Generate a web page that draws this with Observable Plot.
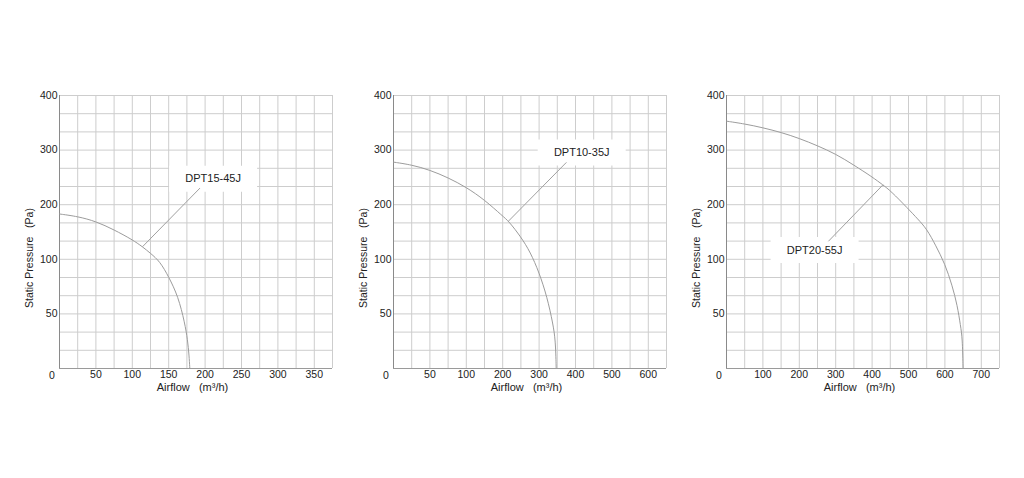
<!DOCTYPE html>
<html><head><meta charset="utf-8">
<script src="https://cdn.jsdelivr.net/npm/d3@7"></script>
<script src="https://cdn.jsdelivr.net/npm/@observablehq/plot@0.6"></script>
<style>
body{margin:0;background:#fff;}
#row{display:flex;width:1024px;height:478px;}
#row svg{flex:none;max-width:none;}
</style></head><body><div id="row"></div>
<script>
// ---- shared y axis (piecewise: 0–100 uses 6 grid cells, 100–400 uses 9) ----
const yTickLabels = [50, 100, 200, 300, 400];
const yGrid = [0, 50/3, 100/3, 50, 200/3, 250/3, 100, 400/3, 500/3, 200, 700/3, 800/3, 300, 1000/3, 1100/3, 400];
const yTitle = "Static Pressure\u00a0\u00a0\u00a0(Pa)";
const xTitle = "Airflow\u00a0\u00a0\u00a0(m³/h)";
const cornerLabel = [{x: 0, y: 0, t: "0"}];

// ---- panel 1: DPT15-45J ----
const x1Domain = [0, 375];
const x1Grid = [0,25,50,75,100,125,150,175,200,225,250,275,300,325,350,375];
const x1TickLabels = [50,100,150,200,250,300,350];
const airflow1 = [0, 25, 50, 75, 100, 114, 125, 138, 150, 163, 172, 176, 178, 179];
const pressure1 = [183, 178.5, 169.5, 154, 136, 123, 111, 98, 84, 66, 42, 26, 12, 0];
const label1 = {name: "DPT15-45J", x: 211, y: 247.5};
const leader1 = {x1: 114, y1: 123, x2: 193, y2: 230.5};

// ---- panel 2: DPT10-35J (piecewise x: 0–100 in 4 cells, 100–650 in 11) ----
const x2Domain = [0, 100, 650];
const x2Grid = [0,25,50,75,100,150,200,250,300,350,400,450,500,550,600,650];
const x2TickLabels = [50,100,200,300,400,500,600];
const airflow2 = [0, 25, 50, 75, 100, 150, 200, 217, 250, 276, 300, 322, 338, 345, 347];
const pressure2 = [278, 273, 263.5, 249.5, 232, 209, 179, 169.5, 141, 113, 88, 65.5, 41, 26, 0];
const label2 = {name: "DPT10-35J", x: 417, y: 295.5};
const leader2 = {x1: 216, y1: 170, x2: 375, y2: 277.5};

// ---- panel 3: DPT20-55J ----
const x3Domain = [0, 750];
const x3Grid = [0,50,100,150,200,250,300,350,400,450,500,550,600,650,700,750];
const x3TickLabels = [100,200,300,400,500,600,700];
const airflow3 = [0, 50, 100, 150, 200, 250, 300, 350, 400, 430, 450, 500, 525, 550, 575, 600, 620, 634, 643, 648, 650];
const pressure3 = [353, 348, 341, 332.5, 321.5, 308, 293, 272.5, 251, 236, 226, 192, 174, 156, 125, 96, 76, 58, 39, 28, 0];
const label3 = {name: "DPT20-55J", x: 242, y: 117};
const leader3 = {x1: 430, y1: 236.5, x2: 280, y2: 133};

const panels = [
  {width: 340, marginLeft: 59, xDomain: x1Domain, xGrid: x1Grid, xTicks: x1TickLabels, airflow: airflow1, pressure: pressure1, label: label1, leader: leader1},
  {width: 334, marginLeft: 53, xDomain: x2Domain, xGrid: x2Grid, xTicks: x2TickLabels, airflow: airflow2, pressure: pressure2, label: label2, leader: leader2},
  {width: 350, marginLeft: 52, xDomain: x3Domain, xGrid: x3Grid, xTicks: x3TickLabels, airflow: airflow3, pressure: pressure3, label: label3, leader: leader3}
];

const boxSymbol = {draw(ctx) { ctx.rect(-44, -13, 88, 26); }};

function panel(p) {
  const W = 273, H = 273, top = 95, bottom = top + H;
  const L = p.marginLeft, cell = H / 15;
  const xRange = p.xDomain.length === 3 ? [L, L + 4 * cell, L + W] : [L, L + W];
  const data = p.airflow.map((x, i) => ({x, y: p.pressure[i]}));
  return Plot.plot({
    width: p.width, height: 478,
    marginLeft: L, marginRight: p.width - L - W, marginTop: top, marginBottom: 478 - bottom,
    x: {type: "linear", domain: p.xDomain, range: xRange},
    y: {type: "linear", domain: [0, 100, 400], range: [bottom, bottom - 6 * cell, top]},
    style: {fontFamily: "'Liberation Sans', Arial, sans-serif", color: "#222", background: "white", overflow: "visible"},
    marks: [
      Plot.ruleX(p.xGrid, {stroke: "#cdcdcd"}),
      Plot.ruleY(yGrid, {stroke: "#cdcdcd"}),
      Plot.ruleX([0], {stroke: "#8a8a8a"}),
      Plot.ruleY([0], {stroke: "#9a9a9a"}),
      Plot.dot([p.label], {x: "x", y: "y", symbol: boxSymbol, fill: "white", stroke: "none"}),
      Plot.line(data, {x: "x", y: "y", curve: "basis", stroke: "#9c9c9c", strokeWidth: 1}),
      Plot.link([p.leader], {x1: "x1", y1: "y1", x2: "x2", y2: "y2", stroke: "#a0a0a0", strokeWidth: 1}),
      Plot.text([p.label], {x: "x", y: "y", text: "name", fontSize: 11, fill: "#222"}),
      Plot.axisX(p.xTicks, {tickSize: 0, tickPadding: 2, fontSize: 10.5, label: null, fill: "#222"}),
      Plot.axisY(yTickLabels, {tickSize: 0, tickPadding: 2, fontSize: 10.5, label: null, fill: "#222"}),
      Plot.text(cornerLabel, {x: "x", y: "y", text: "t", dx: -7.5, dy: 7, fontSize: 10.5, fill: "#222"}),
      Plot.text([xTitle], {text: d => d, frameAnchor: "bottom", textAnchor: "middle", dx: -3.5, dy: 22, fontSize: 11, fill: "#222"}),
      Plot.text([yTitle], {text: d => d, frameAnchor: "left", textAnchor: "middle", lineAnchor: "middle", rotate: -90, dx: -30, dy: 26, fontSize: 10.5, fill: "#222"})
    ]
  });
}

const row = document.getElementById("row");
for (const p of panels) row.appendChild(panel(p));
</script>
</body></html>
